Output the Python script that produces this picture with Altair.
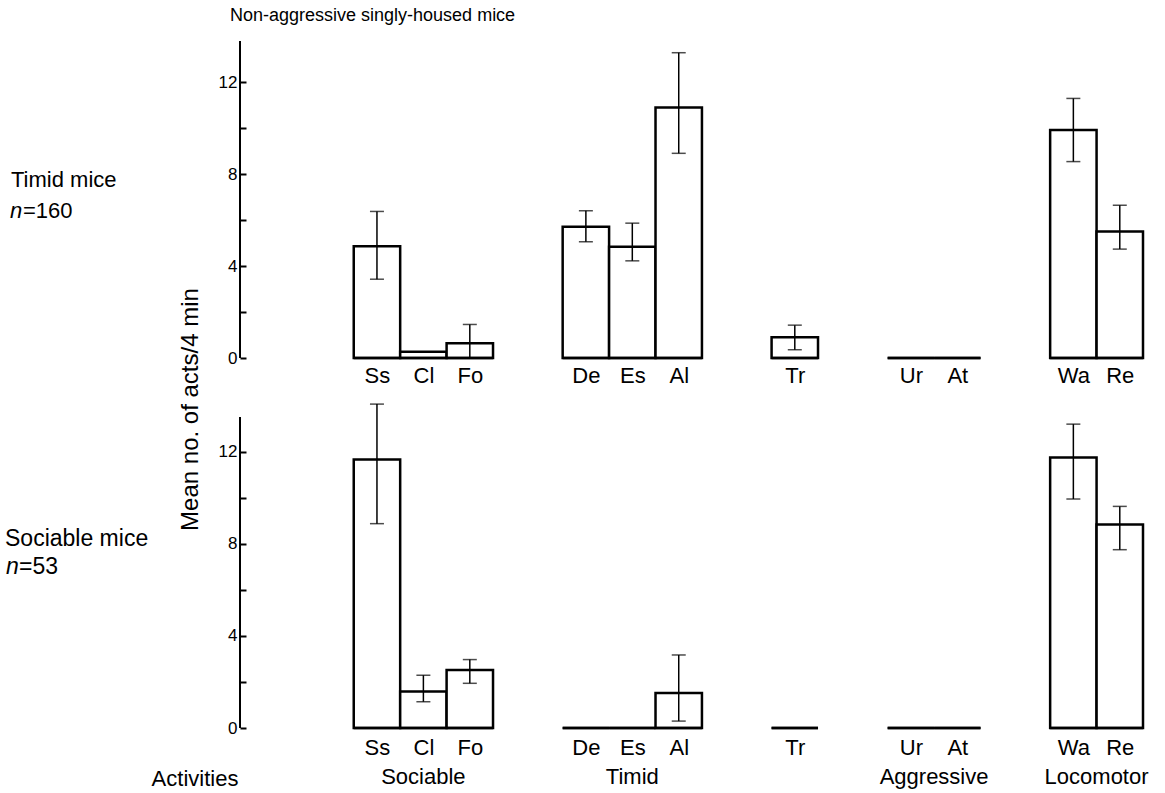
import altair as alt
import pandas as pd

# ---- data ----
group_names = ["Sociable", "Timid", "", "Aggressive", "Locomotor"]
group_acts = [["Ss", "Cl", "Fo"], ["De", "Es", "Al"], ["Tr"], ["Ur", "At"], ["Wa", "Re"]]
acts = ["Ss", "Cl", "Fo", "De", "Es", "Al", "Tr", "Ur", "At", "Wa", "Re"]

timid_mean = [4.87, 0.27, 0.64, 5.71, 4.84, 10.9, 0.9, 0, 0, 9.93, 5.51]
timid_hi = [6.38, None, 1.46, 6.41, 5.87, 13.29, 1.43, None, None, 11.3, 6.65]
timid_lo = [3.43, None, 0.0, 5.06, 4.23, 8.91, 0.36, None, None, 8.55, 4.74]

soc_mean = [11.65, 1.58, 2.52, 0, 0, 1.52, 0, 0, 0, 11.74, 8.83]
soc_hi = [14.06, 2.29, 2.97, None, None, 3.17, None, None, None, 13.19, 9.62]
soc_lo = [8.87, 1.14, 1.94, None, None, 0.30, None, None, None, 9.94, 7.74]

y_ticks = [0, 2, 4, 6, 8, 10, 12]

# ---- layout of the slots (computed from the group structure) ----
GAP = 1.5
starts, gcenters = {}, []
pos = 0.0
for g in group_acts:
    g0 = pos
    for a in g:
        starts[a] = pos
        pos += 1
    gcenters.append((g0 + pos) / 2)
    pos += GAP
XMIN, XMAX = -2.45, pos - GAP
centers = [starts[a] + 0.5 for a in acts]

FONT = "Liberation Sans"
W = 903

label_expr = "[" + ",".join("'%s'" % a for a in acts) + "][indexof([" + \
    ",".join(repr(c) for c in centers) + "], datum.value)]"


def panel(mean, hi, lo, ymax, height, row_label, n_label, label_y, lab_pad, row_size,
          title=None, bottom=False):
    df = pd.DataFrame({
        "act": acts,
        "x0": [starts[a] for a in acts],
        "x1": [starts[a] + 1 for a in acts],
        "xc": centers,
        "mean": mean,
        "hi": hi,
        "lo": lo,
    })
    err = df.dropna(subset=["hi", "lo"])
    xs = alt.Scale(domain=[XMIN, XMAX], nice=False, zero=False)
    ys = alt.Scale(domain=[0, ymax], nice=False)

    common = dict(values=y_ticks, labelExpr="datum.value % 4 == 0 ? datum.label : ''",
                  domain=False, ticks=True, tickSize=6, tickWidth=2, tickColor="black",
                  offset=-6, labelPadding=3, labelFontSize=17, labelFont=FONT,
                  labelColor="black", grid=False)
    if bottom:
        yaxis = alt.Axis(title=None, **common)
    else:
        yaxis = alt.Axis(title="Mean no. of acts/4 min", titleFont=FONT, titleFontSize=24,
                         titleFontWeight="normal", titleColor="black",
                         titleX=-56, titleY=368, titleAngle=270, titleAlign="center",
                         titleBaseline="middle", **common)
    xaxis = alt.Axis(values=centers, labelExpr=label_expr, domain=False, ticks=False,
                     tickSize=0, grid=False, labelPadding=lab_pad, labelFontSize=22,
                     labelFont=FONT, labelColor="black", title=None, labelAngle=0)

    bars = alt.Chart(df).mark_rect(fill="white", stroke="black", strokeWidth=2.5).encode(
        x=alt.X("x0:Q", scale=xs, axis=xaxis),
        x2="x1:Q",
        y=alt.Y("mean:Q", scale=ys, axis=yaxis),
        y2=alt.datum(0),
    )
    base = alt.Chart(df).mark_rule(stroke="black", strokeWidth=2.5).encode(
        x="x0:Q", x2="x1:Q", y=alt.datum(0))
    erule = alt.Chart(err).mark_rule(stroke="black", strokeWidth=1.5).encode(
        x="xc:Q", y="lo:Q", y2="hi:Q")
    etop = alt.Chart(err).mark_tick(orient="horizontal", size=14, thickness=1.5, color="black").encode(
        x="xc:Q", y="hi:Q")
    ebot = alt.Chart(err).mark_tick(orient="horizontal", size=14, thickness=1.5, color="black").encode(
        x="xc:Q", y="lo:Q")
    dl = pd.DataFrame({"lx": [XMIN], "l0": [0.0], "l1": [ymax]})
    domain_line = alt.Chart(dl).mark_rule(stroke="black", strokeWidth=2).encode(
        x="lx:Q", y="l0:Q", y2="l1:Q")

    def txt(s, x, y, size=22, style="normal", align="left"):
        return alt.Chart(pd.DataFrame({"t": [s]})).mark_text(
            align=align, baseline="alphabetic", font=FONT, fontSize=size, fontStyle=style,
            color="black").encode(x=alt.value(x), y=alt.value(y), text="t:N")

    layers = [bars, base, erule, etop, ebot, domain_line,
              txt(row_label[0], row_label[1], label_y[0], size=row_size),
              txt("n", n_label[1], label_y[1], size=row_size, style="italic"),
              txt(n_label[0], n_label[1] + 13, label_y[1], size=row_size)]
    if title:
        layers.append(txt(title, -10, -20, size=18))
    if bottom:
        gdf = pd.DataFrame({"g": group_names, "gc": gcenters})
        glab = alt.Chart(gdf).mark_text(baseline="alphabetic", font=FONT, fontSize=22,
                                        color="black").encode(
            x="gc:Q", y=alt.value(height + 56), text="g:N")
        layers.append(glab)
        layers.append(txt("Activities", -45, height + 58, size=22, align="center"))
    return alt.layer(*layers).properties(width=W, height=height)


top = panel(timid_mean, timid_hi, timid_lo, 13.8, 317,
            ("Timid mice", -229), ("=160", -230), (146, 177), 7, 22,
            title="Non-aggressive singly-housed mice")
bot = panel(soc_mean, soc_hi, soc_lo, 13.5, 311,
            ("Sociable mice", -235), ("=53", -234), (129, 157), 9, 23, bottom=True)

chart = alt.vconcat(top, bot, spacing=59, bounds="flush").properties(
    padding={"left": 5, "top": 7, "right": 5, "bottom": 5}
).configure_view(stroke="transparent", strokeWidth=0)

chart.save("out.html", embed_options={"renderer": "svg", "actions": False})
